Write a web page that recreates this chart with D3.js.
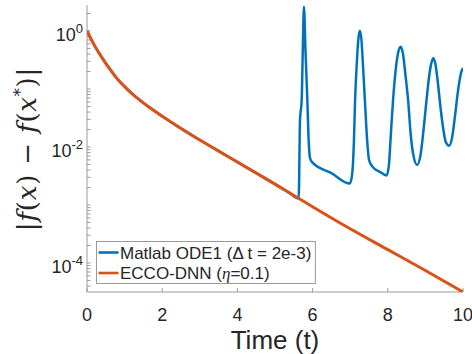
<!DOCTYPE html>
<html>
<head>
<meta charset="utf-8">
<script src="https://cdn.jsdelivr.net/npm/d3@7"></script>
<style>
  body { margin: 0; background: #fff; }
  svg { display: block; font-family: "Liberation Sans", Arial, sans-serif; }
</style>
</head>
<body>
<svg id="chart" width="472" height="354"></svg>
<script>
// time samples and error values
const ecco_t = [0, 0.1, 0.2, 0.3, 0.45, 0.6, 0.8, 1.0, 1.25, 1.5, 1.75, 2.0, 2.5, 3, 3.5, 4, 5, 6, 7, 8, 9, 10];
const ecco_v = [1, 0.741, 0.562, 0.437, 0.309, 0.224, 0.151, 0.110, 0.0776, 0.0575, 0.0437, 0.0339,
  0.0209, 0.0132, 0.00851, 0.00550, 0.00229, 0.000933, 0.000389, 0.000170, 0.0000741, 0.0000316];

const ode_t = [0, 0.1, 0.2, 0.3, 0.45, 0.6, 0.8, 1.0, 1.25, 1.5, 1.75, 2.0, 2.5, 3, 3.5, 4, 5, 5.4, 5.63,
  5.665, 5.71, 5.74, 5.77, 5.81, 5.86, 5.89, 5.93, 6.0, 6.5, 6.99,
  7.05, 7.10, 7.13, 7.18, 7.22, 7.26, 7.30, 7.34, 7.39, 7.45, 7.50, 7.58, 7.79, 7.97,
  8.03, 8.08, 8.14, 8.21, 8.28, 8.34, 8.40, 8.47, 8.54, 8.61, 8.68, 8.78,
  8.87, 8.95, 9.03, 9.10, 9.16, 9.21, 9.26, 9.33, 9.38, 9.46, 9.54, 9.63,
  9.71, 9.79, 9.87, 9.95, 10.0];
const ode_v = [1, 0.741, 0.562, 0.437, 0.309, 0.224, 0.151, 0.110, 0.0776, 0.0575, 0.0437, 0.0339,
  0.0209, 0.0132, 0.00851, 0.00550, 0.00229, 0.00158, 0.00129,
  0.0295, 0.0646, 0.501, 2.63, 0.468, 0.0646, 0.0162, 0.00646, 0.00537, 0.00355, 0.00234,
  0.00331, 0.0132, 0.0646, 0.316, 0.759, 1.01, 0.692, 0.257, 0.0646, 0.0132, 0.00603, 0.00468, 0.00372, 0.00324,
  0.00490, 0.0162, 0.0646, 0.214, 0.437, 0.537, 0.417, 0.174, 0.0646, 0.0162, 0.00724, 0.00490,
  0.00724, 0.0195, 0.0646, 0.166, 0.282, 0.339, 0.282, 0.132, 0.0646, 0.0240, 0.0123, 0.0105,
  0.0145, 0.0355, 0.0955, 0.191, 0.229];

const xTicks = [0, 2, 4, 6, 8, 10];
const yTicks = [1, 1e-2, 1e-4];
const yTickExp = ["0", "-2", "-4"];

const svg = d3.select("#chart");
const m = { left: 87, right: 463, top: 5, bottom: 292 };
const textCol = "#262626", axisCol = "#9a9a9a";

let x = d3.scaleLinear().domain([0, 10]).range([m.left, m.right]);
let y = d3.scaleLog().domain([Math.pow(10, -4.5), Math.pow(10, 0.448)]).range([m.bottom, m.top]);

svg.append("defs").append("clipPath").attr("id", "clip")
  .append("rect").attr("x", m.left).attr("y", m.top).attr("width", m.right - m.left).attr("height", m.bottom - m.top);

// axes lines
svg.append("line").attr("x1", m.left).attr("x2", m.left).attr("y1", m.top).attr("y2", m.bottom)
  .attr("stroke", axisCol).attr("stroke-width", 1);
svg.append("line").attr("x1", m.left).attr("x2", m.right).attr("y1", m.bottom).attr("y2", m.bottom)
  .attr("stroke", axisCol).attr("stroke-width", 1);

// x ticks (inward)
xTicks.forEach(t => {
  svg.append("line").attr("x1", x(t)).attr("x2", x(t)).attr("y1", m.bottom).attr("y2", m.bottom - 4)
    .attr("stroke", axisCol);
  svg.append("text").attr("x", x(t)).attr("y", 321).attr("text-anchor", "middle")
    .attr("font-size", 18).attr("fill", textCol).text(t);
});

// y minor + major ticks
let minor = [];
for (let e = -5; e <= 0; e++) {
  for (let k = 1; k <= 9; k++) {
    let v = k * Math.pow(10, e);
    if (v >= y.domain()[0] && v <= y.domain()[1]) minor.push(v);
  }
}
minor.forEach(v => {
  svg.append("line").attr("x1", m.left).attr("x2", m.left + 3.5).attr("y1", y(v)).attr("y2", y(v))
    .attr("stroke", axisCol);
});
yTicks.forEach((v, i) => {
  let lbl = svg.append("text").attr("x", 83).attr("y", y(v) + 10).attr("text-anchor", "end")
    .attr("font-size", 18).attr("fill", textCol);
  lbl.append("tspan").text("10");
  lbl.append("tspan").attr("font-size", 13).attr("dy", -8).text(yTickExp[i]);
});

// series (orange a touch wider so the blue does not fringe where they overlap)
let line = d3.line().x(d => x(d[0])).y(d => y(d[1])).curve(d3.curveMonotoneX);
let plot = svg.append("g").attr("clip-path", "url(#clip)");
plot.append("path").datum(ode_t.map((t, i) => [t, ode_v[i]]))
  .attr("d", line).attr("fill", "none").attr("stroke", "#0072BD").attr("stroke-width", 2.5)
  .attr("stroke-linejoin", "round");
plot.append("path").datum(ecco_t.map((t, i) => [t, ecco_v[i]]))
  .attr("d", line).attr("fill", "none").attr("stroke", "#D95319").attr("stroke-width", 3)
  .attr("stroke-linejoin", "round");

// labels
svg.append("text").attr("x", (m.left + m.right) / 2).attr("y", 348.5).attr("text-anchor", "middle")
  .attr("font-size", 26).attr("fill", textCol).text("Time (t)");

let yl = svg.append("text").attr("transform", "translate(36,149) rotate(-90)")
  .attr("text-anchor", "middle").attr("font-size", 26).attr("fill", textCol)
  .attr("letter-spacing", 0.8)
  .attr("font-family", "'DejaVu Serif', 'Liberation Serif', serif");
yl.append("tspan").text("|");
yl.append("tspan").attr("font-style", "italic").text("f");
yl.append("tspan").text("(");
yl.append("tspan").attr("font-style", "italic").text("x");
yl.append("tspan").text(") \u2212 ");
yl.append("tspan").attr("font-style", "italic").text("f");
yl.append("tspan").text("(");
yl.append("tspan").attr("font-style", "italic").text("x");
yl.append("tspan").attr("font-size", 16).attr("dy", -10).text("*");
yl.append("tspan").attr("dy", 10).text(")|");

// legend
let lg = svg.append("g");
let box = lg.append("rect").attr("x", 96.5).attr("y", 241.5).attr("width", 220).attr("height", 42)
  .attr("fill", "#fff").attr("stroke", axisCol);
const legRows = [
  { col: "#0072BD", y: 252.5 },
  { col: "#D95319", y: 273 }
];
legRows.forEach(r => {
  lg.append("line").attr("x1", 98.5).attr("x2", 118.5).attr("y1", r.y).attr("y2", r.y)
    .attr("stroke", r.col).attr("stroke-width", 2.6);
});
let t1 = lg.append("text").attr("x", 120).attr("y", legRows[0].y + 6).attr("font-size", 17).attr("fill", textCol)
  .text("Matlab ODE1 (\u0394 t = 2e-3)");
let t2 = lg.append("text").attr("x", 120).attr("y", legRows[1].y + 6).attr("font-size", 17).attr("fill", textCol);
t2.append("tspan").text("ECCO-DNN (");
t2.append("tspan").attr("font-family", "'Liberation Serif', serif").attr("font-style", "italic").text("\u03B7");
t2.append("tspan").text("=0.1)");
let bb = t1.node().getBBox();
box.attr("width", bb.x + bb.width + 4 - 96.5);
</script>
</body>
</html>
